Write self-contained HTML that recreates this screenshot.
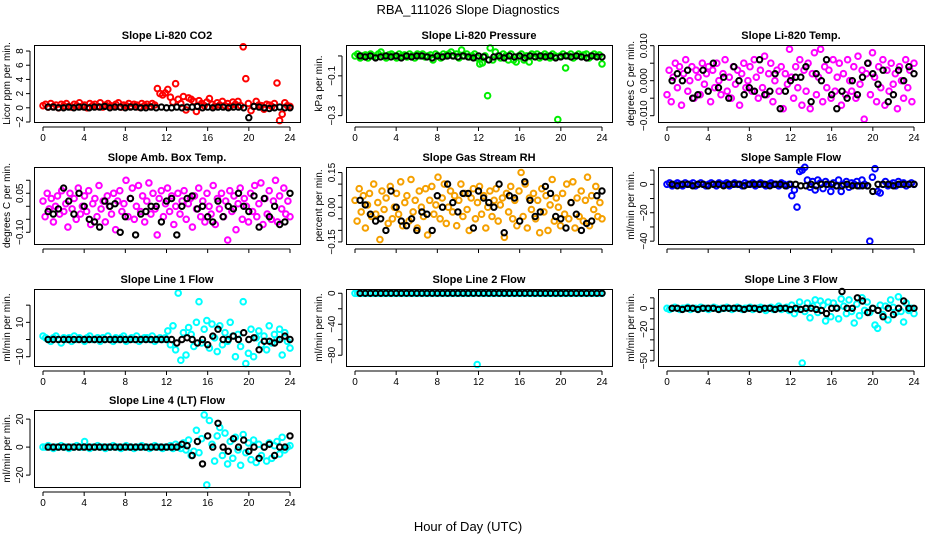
<!DOCTYPE html>
<html><head><meta charset="utf-8"><style>
html,body{margin:0;padding:0;background:#fff;}
svg{display:block;font-family:"Liberation Sans",sans-serif;}
</style></head><body>
<svg id="chart" width="936" height="540" viewBox="0 0 936 540" xmlns="http://www.w3.org/2000/svg">
<text x="468" y="14" text-anchor="middle" font-size="13">RBA_111026  Slope Diagnostics</text>
<text x="468" y="531" text-anchor="middle" font-size="13">Hour of Day (UTC)</text>
</svg>
<script>
// ---- data (colored series evenly spaced over 0-24 h; black series every half hour) ----
const xTicks=[0,4,8,12,16,20,24];
const co2Vals=[0.3,0.5,0.1,0.6,0.2,0.4,0.0,0.5,0.3,0.6,0.2,0.1,0.5,0.3,0.7,0.2,0.4,0.0,0.6,0.3,0.5,0.2,0.7,0.1,0.4,0.6,0.3,0.2,0.5,0.7,0.1,0.4,0.3,0.6,0.2,0.5,0.4,0.1,0.6,0.3,0.5,0.2,0.6,0.4,2.7,2.0,1.8,2.1,2.6,1.5,0.8,3.4,1.2,0.6,1.6,-0.3,1.4,1.2,0.9,-0.5,1.0,0.6,0.3,0.8,1.3,0.5,0.2,0.7,0.4,0.9,0.3,0.6,0.2,0.8,0.5,0.9,0.3,8.6,4.1,0.6,-0.4,0.2,0.9,0.4,0.3,-0.2,0.5,0.4,0.2,0.6,3.5,-1.8,-0.9,0.7,0.3,0.2];
const co2Black=[0.1,0.1,0.0,0.0,0.1,0.0,0.1,0.1,0.0,0.1,0.1,0.2,0.0,0.1,0.1,0.0,0.1,0.1,0.0,0.0,0.1,0.0,0.1,0.0,0.0,0.1,0.0,0.1,0.1,0.2,0.0,0.1,0.0,0.1,0.1,0.0,0.1,0.1,0.0,-1.4,0.2,0.1,0.0,-0.1,0.0,0.1,0.0,0.0];
const presVals=[0.0,0.01,-0.01,0.0,0.005,-0.01,0.01,0.0,-0.005,0.01,0.02,0.0,-0.01,0.005,0.01,0.0,-0.01,0.01,0.0,0.005,-0.005,0.01,0.0,-0.01,0.01,0.0,0.01,-0.005,0.0,0.005,-0.02,0.01,0.0,-0.01,0.01,0.0,0.01,0.02,0.0,0.01,-0.01,0.03,0.0,0.01,-0.005,0.0,0.01,-0.01,-0.04,-0.035,0.0,-0.2,0.04,-0.02,0.02,0.0,-0.01,0.01,0.0,-0.02,0.01,-0.02,-0.03,0.0,0.01,-0.02,0.0,-0.03,0.01,0.0,0.01,-0.01,0.0,0.01,0.0,-0.01,0.01,0.0,-0.32,0.0,0.01,-0.06,0.0,0.01,-0.01,0.0,0.01,0.0,0.005,0.01,-0.01,0.0,0.01,0.0,0.005,-0.04];
const presBlack=[0,-.005,0,-.01,-.005,0,-.005,0,-.01,0,-.005,0,0,-.005,-.01,0,-.005,0,0,-.005,0,-.005,-.01,0,-.005,-.02,-.005,0,-.01,0,-.005,0,-.01,0,-.005,0,-.005,0,-.01,-.005,0,-.005,0,-.005,-.01,0,-.005,-.005];
const tempVals=[-.004,.003,-.006,.001,.005,-.002,.004,-.007,.002,.006,-.003,.000,.004,-.005,.003,.001,-.004,.005,-.001,.002,.004,-.006,.003,-.002,.005,.000,-.004,.002,.006,-.003,.001,-.005,.004,-.001,.003,-.007,.002,.005,-.002,.000,.004,-.003,.006,.001,-.005,.003,-.002,.007,-.004,.002,.005,-.006,.000,.003,-.003,.004,-.008,.002,-.001,.009,.001,-.005,.004,-.002,.006,-.007,.003,-.003,.005,-.008,.002,.008,-.004,.001,.009,-.006,.004,-.002,.003,-.005,.006,-.003,.001,.005,-.007,.002,-.004,.006,.000,-.003,.004,-.005,.007,-.001,.003,-.011,.002,.005,-.004,.008,.001,-.006,.004,-.002,.006,-.007,.003,-.003,.005,-.001,.002,-.008,.004,.000,-.005,.006,-.002,.003,-.006,.005];
const tempBlack=[.000,.002,.000,.003,-.005,-.004,.003,-.003,.005,-.002,.001,-.005,.004,.000,-.004,-.002,-.003,.006,-.004,-.003,.002,-.008,-.003,.000,.001,.001,.004,-.006,.002,.000,.006,-.004,-.008,-.003,-.005,.000,-.004,.001,.005,.002,-.001,.003,-.006,-.004,.003,.000,.004,.002];
const ambVals=[.02,-.04,.05,-.01,.03,-.06,.00,.04,-.03,.06,-.02,.01,-.08,.05,-.01,.03,-.05,.07,-.03,.00,.04,-.02,.06,-.07,.01,.03,-.04,.08,-.01,.02,-.06,.04,.00,-.03,.05,-.09,.02,.06,-.02,.01,.10,-.04,.03,.07,-.05,.00,.08,-.02,.04,-.06,.02,.09,-.03,.05,-.01,-.11,.03,.06,-.04,.01,.07,-.02,.04,-.07,.00,.05,-.03,.02,.06,-.05,.01,.03,-.08,.04,-.01,.07,-.04,.02,-.06,.05,.00,-.03,.08,-.07,.03,-.01,.05,-.04,.02,-.13,.06,-.02,.04,-.09,.01,.07,-.05,.03,.00,-.06,.05,-.02,.08,-.04,.01,.09,-.07,.03,-.03,.06,-.05,.02,.10,-.06,.04,-.01,.07,-.03,.02,-.04];
const ambBlack=[-.02,-.03,-.01,.07,.02,-.03,.05,.00,-.05,-.06,-.08,.02,.00,.01,-.10,-.04,.03,-.11,-.03,-.02,.00,.00,-.06,.02,.03,-.11,.00,.03,.04,-.01,.00,-.04,-.06,.02,-.04,.00,-.01,.05,.00,-.02,.04,-.08,.03,-.04,.00,-.07,-.06,.05];
const rhVals=[.03,-.06,.08,-.02,.05,-.09,.01,.06,-.04,.10,-.03,.02,-.14,.07,-.01,.04,-.07,.09,-.05,.00,.06,-.03,.11,-.08,.02,.05,-.06,.12,-.02,.03,-.09,.07,.00,-.04,.08,-.12,.03,.09,-.03,.01,.13,-.05,.04,.10,-.07,.00,.07,-.02,.05,-.08,.03,.10,-.04,.06,-.01,-.10,.04,.08,-.05,.02,.09,-.03,.05,-.09,.00,.07,-.04,.03,.08,-.06,.01,.04,-.13,.06,-.02,.09,-.05,.03,-.08,.07,.15,-.04,.10,-.09,.04,-.01,.06,-.05,.03,-.11,.08,-.02,.05,-.10,.01,.12,-.06,.04,.00,-.08,.06,-.03,.10,-.05,.02,.11,-.09,.04,-.04,.07,-.06,.03,.13,-.08,.05,-.01,.09,-.04,.02,-.05];
const rhBlack=[.03,.01,-.03,-.06,-.05,-.10,.07,.00,-.06,-.08,-.05,-.10,-.02,-.03,-.10,.05,.00,.10,.02,-.02,.06,.06,-.09,.07,.04,.02,.00,.10,-.11,.05,.04,-.06,.11,.03,-.04,-.02,.09,.06,-.04,-.05,-.09,.02,-.03,-.10,-.07,-.06,.05,.07];
const flowVals=[0,1,-1,0,1,0,-1,1,0,0,1,-1,0,1,0,-1,0,1,0,-1,1,0,0,1,-1,0,1,0,0,-1,1,0,0,1,-1,0,1,0,-1,0,1,0,0,-1,1,0,-1,0,-8,-4,-16,9,10,12,3,-2,2,-4,3,1,-3,2,0,-5,1,-1,3,-5,0,2,-2,1,0,2,-1,3,0,-1,-40,5,11,-5,-6,0,2,-1,0,1,-1,2,0,1,-1,0,1,0];
const flowBlack=[0,-1,0,0,-1,0,0,-1,0,0,-1,0,0,0,-1,0,0,0,0,-1,0,0,-1,0,0,-1,-1,0,-1,0,0,0,-1,-1,0,-1,-1,-1,-1,-5,0,0,0,-1,0,0,0,0];
const line1Vals=[2,1,0,-1,1,2,0,-2,1,0,1,-1,2,0,1,0,-1,1,2,0,0,1,-1,1,0,2,0,-1,1,0,1,2,-1,0,1,0,2,-1,0,1,1,0,2,-1,0,1,0,1,5,-3,8,-6,27,-12,4,-9,7,3,-4,10,22,-2,6,11,-5,9,1,-7,8,-3,4,-1,10,2,-10,3,-4,22,-14,-8,6,-10,1,5,-3,2,-6,8,-2,3,0,6,-9,4,-1,-5];
const line1Black=[0,0,0,0,0,0,0,0,0,0,0,0,0,0,0,0,0,0,0,0,0,0,0,0,0,-2,0,1,0,-2,0,-3,2,6,0,0,2,0,4,0,1,-6,-1,-1,-2,0,2,0];
const line2Vals=[0,0,0,0,0,0,0,0,0,0,0,0,0,0,0,0,0,0,0,0,0,0,0,0,0,0,0,0,0,0,0,0,0,0,0,0,0,0,0,0,0,0,0,0,0,0,0,-92,0,0,0,0,0,0,0,0,0,0,0,0,0,0,0,0,0,0,0,0,0,0,0,0,0,0,0,0,0,0,0,0,0,0,0,0,0,0,0,0,0,0,0,0,0,0,0,0];
const line2Black=[0,0,0,0,0,0,0,0,0,0,0,0,0,0,0,0,0,0,0,0,0,0,0,0,0,0,0,0,0,0,0,0,0,0,0,0,0,0,0,0,0,0,0,0,0,0,0,0];
const line3Vals=[0,-1,0,1,0,-1,0,0,1,-1,0,0,-1,1,0,0,-1,0,1,0,-1,0,0,1,0,-1,0,1,0,-1,0,0,1,-1,0,0,1,0,-2,0,1,-1,0,2,-1,0,1,-2,3,-5,-1,6,-52,-3,5,-9,2,8,-4,7,3,-12,6,-8,5,1,-10,9,2,-5,8,-3,-14,4,-7,10,-2,6,-4,0,-16,-19,3,-6,2,-11,8,1,-4,11,-3,-13,5,-2,0,-5];
const line3Black=[0,0,-1,0,0,-1,0,0,0,-1,0,0,0,0,-1,0,0,-1,0,0,-1,0,0,-1,0,-1,0,0,-1,-2,-5,0,0,16,0,0,10,7,-4,0,-2,-8,0,-6,0,7,0,0];
const line4Vals=[0,0,1,0,-1,0,0,1,0,0,-1,0,0,1,0,0,4,0,-1,0,0,1,0,0,-1,0,0,1,0,0,-1,0,1,0,0,-1,0,0,1,0,0,-1,0,1,0,0,-1,0,0,1,-1,2,0,-1,3,-2,5,-6,-3,12,-4,6,23,-27,19,2,-10,8,14,-6,10,-12,4,-8,7,-2,-13,9,-4,3,-9,5,-11,2,-6,0,-10,3,-8,1,4,-5,7,-2,0,1];
const line4Black=[0,0,0,0,0,0,0,0,0,0,0,0,0,0,0,0,0,0,0,0,0,0,0,0,0,0,2,1,-6,4,-12,8,0,17,0,-3,6,0,5,-3,0,-8,0,2,-6,0,0,8];

// ---- layout / styling ----
const colLeft=[34,346,658], rowTop=[45,167,289,410], W=266, H=77;
const panels=[
 {name:'li820-co2',title:'Slope Li-820 CO2',yl:'Licor ppm per min.',c:0,r:0,d:[-2,8.85],t:[-2,0,2,4,6,8],tl:['\u22122','0','2','4','6','8'],col:'#ff0000',v:co2Vals,b:co2Black,xl:true},
 {name:'li820-pressure',title:'Slope Li-820 Pressure',yl:'kPa per min.',c:1,r:0,d:[-0.332,0.055],t:[0,-0.1,-0.2,-0.3],tl:['','\u22120.1','','\u22120.3'],col:'#00ee00',v:presVals,b:presBlack,xl:true},
 {name:'li820-temp',title:'Slope Li-820 Temp.',yl:'degrees C per min.',c:2,r:0,d:[-0.0118,0.0102],t:[-0.01,-0.005,0,0.005,0.01],tl:['\u22120.010','','0.000','','0.010'],col:'#ff00ff',v:tempVals,b:tempBlack,xl:true},
 {name:'amb-box-temp',title:'Slope Amb. Box Temp.',yl:'degrees C per min.',c:0,r:1,d:[-0.145,0.151],t:[-0.1,-0.05,0,0.05,0.1],tl:['\u22120.10','','','0.05',''],col:'#ff00ff',v:ambVals,b:ambBlack,xl:false},
 {name:'gas-stream-rh',title:'Slope Gas Stream RH',yl:'percent per min.',c:1,r:1,d:[-0.159,0.174],t:[-0.15,-0.1,-0.05,0,0.05,0.1,0.15],tl:['\u22120.15','','','0.00','','','0.15'],col:'#f5a000',v:rhVals,b:rhBlack,xl:false},
 {name:'sample-flow',title:'Slope Sample Flow',yl:'ml/min per min.',c:2,r:1,d:[-42,12.2],t:[-40,-30,-20,-10,0,10],tl:['\u221240','','\u221220','','0',''],col:'#0000ff',v:flowVals,b:flowBlack,xl:false},
 {name:'line1-flow',title:'Slope Line 1 Flow',yl:'ml/min per min.',c:0,r:2,d:[-15.4,29.4],t:[-10,0,10,20],tl:['\u221210','','10',''],col:'#00ffff',v:line1Vals,b:line1Black,xl:true},
 {name:'line2-flow',title:'Slope Line 2 Flow',yl:'ml/min per min.',c:1,r:2,d:[-93.9,5.5],t:[0,-20,-40,-60,-80],tl:['0','','\u221240','','\u221280'],col:'#00ffff',v:line2Vals,b:line2Black,xl:true},
 {name:'line3-flow',title:'Slope Line 3 Flow',yl:'ml/min per min.',c:2,r:2,d:[-54.9,18.4],t:[10,0,-10,-20,-30,-40,-50],tl:['','0','','\u221220','','','\u221250'],col:'#00ffff',v:line3Vals,b:line3Black,xl:true},
 {name:'line4-flow',title:'Slope Line 4 (LT) Flow',yl:'ml/min per min.',c:0,r:3,d:[-28.5,26.5],t:[-20,0,20],tl:['\u221220','0','20'],col:'#00ffff',v:line4Vals,b:line4Black,xl:true}
];
const NS='http://www.w3.org/2000/svg';
const svg=document.getElementById('chart');
function mk(tag,attrs,parent){const e=document.createElementNS(NS,tag);for(const k in attrs)e.setAttribute(k,attrs[k]);parent.appendChild(e);return e;}
panels.forEach(p=>{
  const L=colLeft[p.c], T=rowTop[p.r], B=T+H;
  const xs=h=>L+9+h*(W-19)/24;
  const ys=v=>B-(v-p.d[0])*H/(p.d[1]-p.d[0]);
  const g=mk('g',{},svg);
  
  
  const tt=mk('text',{x:L+W/2,y:T-6,'text-anchor':'middle','font-size':11,'font-weight':'bold'},g);
  tt.textContent=p.title;
  
  
  const cg=mk('g',{fill:'none','stroke-width':2},g);
  
  
  const n=p.v.length;
  p.v.forEach((v,i)=>{
    const h=24*i/(n-1);
    const c=mk('circle',{cx:xs(h).toFixed(1),cy:ys(v).toFixed(1),r:2.8,stroke:p.col},cg);
    
    
  });
  const bg=mk('g',{fill:'none','stroke-width':2,stroke:'#000'},g);
  
  
  p.b.forEach((v,i)=>{
    const h=0.5*(i+1);
    const c=mk('circle',{cx:xs(h).toFixed(1),cy:ys(v).toFixed(1),r:2.7},bg);
    
    
  });
  const box=mk('rect',{x:L+0.5,y:T+0.5,width:W,height:H,fill:'none',stroke:'#000','stroke-width':1},g);
  
  
  const xa=mk('g',{stroke:'#000','font-size':10},g);
  
  
  mk('line',{x1:xs(0),x2:xs(24),y1:B+5,y2:B+5},xa);
  xTicks.forEach(h=>{
    mk('line',{x1:xs(h),x2:xs(h),y1:B+5,y2:B+9},xa);
    if(p.xl){const t=mk('text',{x:xs(h),y:B+19,'text-anchor':'middle',stroke:'none'},xa);t.textContent=h;}
  });
  const ya=mk('g',{stroke:'#000','font-size':10},g);
  
  
  const tv=p.t.map(ys);
  mk('line',{x1:L-4,x2:L-4,y1:Math.min(...tv),y2:Math.max(...tv)},ya);
  p.t.forEach((v,i)=>{
    const y=ys(v);
    mk('line',{x1:L-8,x2:L-4,y1:y,y2:y},ya);
    if(p.tl[i]){const t=mk('text',{x:L-11,y:y,'text-anchor':'middle',stroke:'none',transform:`rotate(-90 ${L-11} ${y})`},ya);t.textContent=p.tl[i];}
  });
  const yt=mk('text',{x:L-24,y:T+H/2,'text-anchor':'middle','font-size':10,transform:`rotate(-90 ${L-24} ${T+H/2})`},g);
  yt.textContent=p.yl;
  
  
});
</script>
</body></html>
